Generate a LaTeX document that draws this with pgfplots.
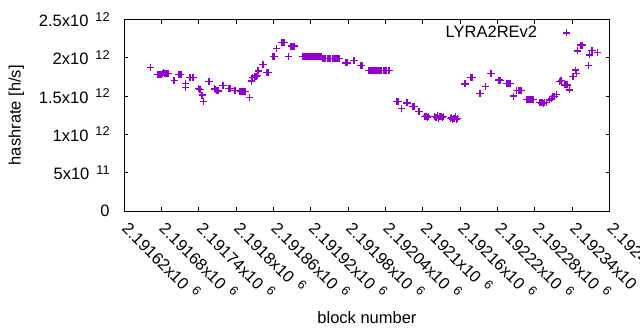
\documentclass[border=0pt]{standalone}
\usepackage{pgfplots}
\pgfplotsset{compat=1.18}
\usepackage{fontspec}
\setmainfont{Liberation Sans}
\definecolor{gpviolet}{RGB}{148,0,211}
\newcommand{\sx}[1]{\hspace{7bp}\raisebox{5.6bp}{\fontsize{12.7bp}{14bp}\selectfont #1}}
\pgfplotsset{mylegend/.style={legend image code/.code={\path[draw=none,fill=none] (0bp,0bp) (30bp,0bp); \draw[##1] plot coordinates {(27bp,0bp)};}}}
\begin{document}
\fontsize{16.5bp}{19bp}\selectfont
\begin{tikzpicture}
\begin{axis}[
  scale only axis, width=485.3bp, height=191.5bp,
  xmin=620, xmax=1400, ymin=0, ymax=2.5,
  xtick={620,680,740,800,860,920,980,1040,1100,1160,1220,1280,1340,1400},
  xticklabels={2.19162x10\sx{6},2.19168x10\sx{6},2.19174x10\sx{6},2.1918x10\sx{6},2.19186x10\sx{6},2.19192x10\sx{6},2.19198x10\sx{6},2.19204x10\sx{6},2.1921x10\sx{6},2.19216x10\sx{6},2.19222x10\sx{6},2.19228x10\sx{6},2.19234x10\sx{6},2.1924x10\sx{6}},
  ytick={0,0.5,1,1.5,2,2.5},
  yticklabels={0,5x10\sx{11},1x10\sx{12},1.5x10\sx{12},2x10\sx{12},2.5x10\sx{12}},
  tick align=inside, major tick length=4bp,
  axis line style={line width=1bp},
  every tick/.style={black, line width=1bp},
  yticklabel style={anchor=east, xshift=-9bp},
  xticklabel style={rotate=-45, anchor=north west, inner sep=0pt, xshift=11bp, yshift=-1bp},
  xlabel={block number},
  ylabel={hashrate [h/s]},
  every axis x label/.style={at={(axis description cs:0.5,0)}, anchor=center, yshift=-107bp},
  every axis y label/.style={at={(axis description cs:-0.2225,0.5)}, anchor=center, rotate=90},
  legend cell align=right,
  legend plot pos=right,
  legend style={draw=none, fill=none, inner sep=0pt, at={(rel axis cs:0.918,0.93)}, anchor=east},
]
\addplot[only marks, mark=+, mark size=3.5bp, color=gpviolet, line width=1.2bp, mylegend]
table {
x y
662 1.876
673 1.785
675 1.787
677 1.783
679 1.785
681 1.800
683 1.802
685 1.798
687 1.800
689 1.800
691 1.797
700 1.701
707 1.785
709 1.787
711 1.783
718 1.667
719 1.610
725 1.745
727 1.745
729 1.742
731 1.745
739 1.602
741 1.590
743 1.590
745 1.514
747 1.427
755 1.693
757 1.693
765 1.593
767 1.590
769 1.567
771 1.567
778 1.642
780 1.642
787 1.602
789 1.600
791 1.602
797 1.576
799 1.576
806 1.563
808 1.563
810 1.565
812 1.560
814 1.563
821 1.479
824 1.697
826 1.740
830 1.762
832 1.762
834 1.765
835 1.828
842 1.917
844 1.917
849 1.812
851 1.812
859 2.014
861 2.014
865 2.124
873 2.204
875 2.204
877 2.200
884 2.014
888 2.154
890 2.154
892 2.150
894 2.154
906 2.020
908 2.020
910 2.020
912 2.020
914 2.020
916 2.020
918 2.020
920 2.020
922 2.020
924 2.020
926 2.020
928 2.020
930 2.020
932 2.020
934 2.020
936 2.020
938 1.988
940 1.988
942 1.988
944 1.988
946 1.988
948 1.988
950 1.988
952 1.988
954 1.988
956 1.988
958 1.988
960 1.988
962 1.988
964 1.988
966 1.988
976 1.933
978 1.933
988 1.965
990 1.965
1000 1.902
1002 1.902
1012 1.837
1014 1.837
1016 1.837
1018 1.837
1020 1.837
1022 1.837
1024 1.837
1026 1.837
1028 1.837
1030 1.837
1032 1.837
1034 1.837
1036 1.837
1038 1.837
1040 1.837
1042 1.837
1044 1.837
1046 1.837
1057 1.432
1059 1.432
1061 1.432
1066 1.341
1073 1.410
1075 1.410
1083 1.367
1085 1.367
1087 1.365
1093 1.296
1095 1.296
1103 1.231
1105 1.240
1107 1.225
1109 1.231
1119 1.230
1121 1.220
1123 1.250
1125 1.210
1127 1.230
1129 1.240
1131 1.220
1133 1.230
1144 1.210
1146 1.220
1148 1.200
1150 1.210
1152 1.230
1154 1.200
1156 1.210
1167 1.658
1169 1.658
1176 1.745
1178 1.745
1180 1.745
1191 1.537
1193 1.537
1200 1.628
1208 1.798
1210 1.798
1221 1.710
1223 1.710
1225 1.705
1235 1.667
1237 1.667
1239 1.665
1241 1.667
1246 1.501
1251 1.576
1253 1.576
1255 1.578
1257 1.576
1259 1.576
1267 1.460
1269 1.460
1271 1.455
1273 1.460
1275 1.460
1277 1.460
1288 1.416
1290 1.410
1292 1.416
1294 1.400
1296 1.420
1298 1.416
1303 1.450
1306 1.470
1309 1.490
1312 1.500
1315 1.520
1320 1.688
1322 1.700
1328 1.645
1330 1.645
1332 1.645
1336 1.580
1340 1.753
1342 1.753
1345 1.840
1347 1.800
1348 2.089
1353 2.167
1355 2.167
1357 2.167
1366 1.897
1368 2.037
1371 2.100
1373 2.100
1380 2.072
};
\addlegendentry{LYRA2REv2}
\end{axis}
\pgfresetboundingbox
\path[use as bounding box] (-124.3bp,-119bp) rectangle (515.7bp,211bp);
\end{tikzpicture}
\end{document}
